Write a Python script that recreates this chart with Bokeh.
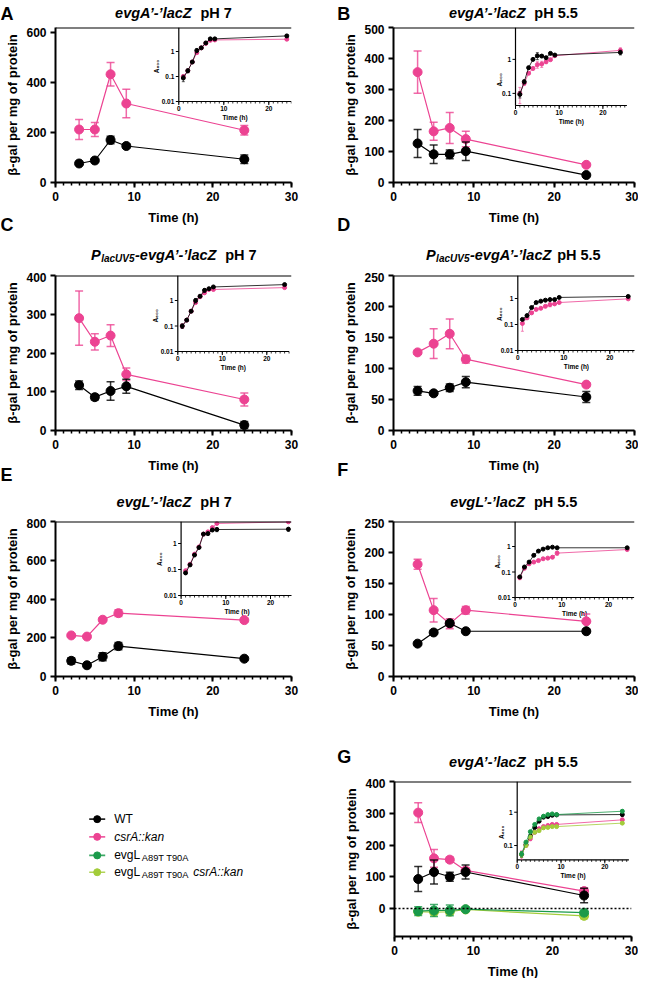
import math
from bokeh.plotting import figure
from bokeh.layouts import column, row
from bokeh.models import Range1d, LogScale, FixedTicker, Span
from bokeh.core.properties import value
from bokeh.embed import file_html
from bokeh.resources import INLINE

FONT = "Liberation Sans"
BLACK = "#000000"
PINK = "#EC4392"
DGREEN = "#1A9A4A"
LGREEN = "#A3CC3A"

# ---------------- main data (beta-gal per mg protein) ----------------
T_STD = [3, 5, 7, 9, 24]
T_E = [2, 4, 6, 8, 24]

A_WT = [76, 88, 170, 146, 93]
A_WT_ERR = [6, 8, 15, 8, 17]
A_CS = [212, 212, 433, 316, 209]
A_CS_ERR = [40, 28, 47, 57, 19]

B_WT = [126, 91, 91, 101, 24]
B_WT_ERR = [45, 30, 14, 30, 4]
B_CS = [356, 165, 176, 140, 57]
B_CS_ERR = [68, 29, 50, 25, 4]

C_WT = [117, 86, 102, 114, 14]
C_WT_ERR = [11, 7, 24, 18, 9]
C_CS = [290, 229, 245, 145, 80]
C_CS_ERR = [70, 21, 28, 16, 17]

D_WT = [64, 60, 69, 78, 54]
D_WT_ERR = [7, 3, 6, 9, 9]
D_CS = [126, 140, 156, 115, 74]
D_CS_ERR = [3, 24, 24, 6, 3]

E_WT = [81, 58, 102, 157, 92]
E_WT_ERR = [16, 8, 21, 19, 8]
E_CS = [212, 206, 293, 327, 291]
E_CS_ERR = [8, 8, 8, 17, 8]

F_WT = [53, 71, 86, 73, 73]
F_WT_ERR = [2, 2, 3, 2, 2]
F_CS = [181, 107, 85, 107, 89]
F_CS_ERR = [8, 19, 8, 6, 12]

G_WT = [93, 115, 100, 115, 41]
G_WT_ERR = [39, 38, 14, 22, 23]
G_CS = [302, 158, 154, 120, 55]
G_CS_ERR = [31, 28, 8, 8, 10]
G_G1 = [-8, -6, -6, -2, -13]
G_G1_ERR = [14, 19, 17, 4, 4]
G_G2 = [-10, -11, -10, -3, -23]
G_G2_ERR = [8, 8, 8, 4, 9]

# ---------------- inset data (A600) ----------------
IT8 = [1, 2, 3, 4, 5, 6, 7, 8, 24]
IT9 = [1, 2, 3, 4, 5, 6, 7, 8, 9, 24]

IA_WT = [0.087, 0.17, 0.38, 1.1, 1.4, 2.2, 3.2, 3.2, 4.2]
IA_WT_ERR = [0.025, 0.03, 0.03, 0.2, 0.1, 0.2, 0.3, 0.3, 0.6]
IA_CS = [0.10, 0.17, 0.38, 0.90, 1.4, 2.1, 2.8, 2.9, 3.1]
IA_CS_ERR = [0.015, 0.02, 0.03, 0.1, 0.1, 0.2, 0.2, 0.2, 0.3]

IB_WT = [0.093, 0.22, 0.57, 1.0, 1.28, 1.25, 1.12, 1.5, 1.34, 1.6]
IB_WT_ERR = [0.02, 0.03, 0.05, 0.05, 0.3, 0.1, 0.05, 0.1, 0.05, 0.25]
IB_CS = [0.10, 0.20, 0.39, 0.54, 0.70, 0.73, 0.85, 0.98, 1.28, 1.84]
IB_CS_ERR = [0.05, 0.03, 0.03, 0.05, 0.15, 0.15, 0.1, 0.05, 0.05, 0.35]

IC_WT = [0.10, 0.17, 0.38, 1.0, 1.47, 2.5, 2.9, 3.4, 4.2]
IC_WT_ERR = [0.02, 0.02, 0.03, 0.2, 0.1, 0.4, 0.2, 0.2, 0.3]
IC_CS = [0.10, 0.17, 0.38, 0.83, 1.4, 2.0, 2.7, 2.7, 3.2]
IC_CS_ERR = [0.02, 0.02, 0.03, 0.1, 0.1, 0.2, 0.2, 0.2, 0.2]

ID_WT = [0.157, 0.22, 0.45, 0.70, 0.79, 0.86, 0.91, 0.91, 1.1, 1.2]
ID_WT_ERR = [0.01, 0.01, 0.02, 0.03, 0.03, 0.03, 0.04, 0.04, 0.05, 0.05]
ID_CS = [0.11, 0.18, 0.28, 0.38, 0.42, 0.50, 0.58, 0.62, 0.70, 0.97]
ID_CS_ERR = [0.055, 0.02, 0.03, 0.03, 0.03, 0.05, 0.1, 0.05, 0.05, 0.05]

IE_WT = [0.074, 0.15, 0.36, 0.70, 2.3, 2.4, 3.3, 3.45, 3.55]
IE_WT_ERR = [0.01, 0.01, 0.03, 0.05, 0.2, 0.3, 0.3, 0.6, 0.6]
IE_CS = [0.09, 0.16, 0.39, 0.74, 2.3, 2.8, 4.1, 5.9, 6.8]
IE_CS_ERR = [0.01, 0.01, 0.03, 0.05, 0.2, 0.2, 0.3, 0.3, 0.3]

IF_WT = [0.064, 0.157, 0.245, 0.45, 0.66, 0.79, 0.89, 0.94, 0.89, 0.89]
IF_WT_ERR = [0.005, 0.01, 0.02, 0.03, 0.03, 0.03, 0.03, 0.03, 0.03, 0.05]
IF_CS = [0.06, 0.14, 0.21, 0.245, 0.28, 0.33, 0.35, 0.38, 0.55, 0.76]
IF_CS_ERR = [0.01, 0.01, 0.02, 0.02, 0.02, 0.03, 0.03, 0.04, 0.1, 0.08]

IG_WT = [0.054, 0.107, 0.19, 0.35, 0.54, 0.71, 0.74, 0.81, 0.83, 0.85]
IG_WT_ERR = [0.01, 0.01, 0.02, 0.03, 0.05, 0.05, 0.05, 0.05, 0.05, 0.1]
IG_CS = [0.054, 0.10, 0.16, 0.25, 0.32, 0.37, 0.40, 0.43, 0.43, 0.59]
IG_CS_ERR = [0.015, 0.01, 0.02, 0.02, 0.03, 0.03, 0.03, 0.03, 0.03, 0.07]
IG_G1 = [0.056, 0.126, 0.26, 0.43, 0.63, 0.76, 0.85, 0.89, 0.85, 1.07]
IG_G1_ERR = [0.01, 0.01, 0.02, 0.03, 0.05, 0.05, 0.05, 0.05, 0.05, 0.12]
IG_G2 = [0.054, 0.10, 0.18, 0.25, 0.28, 0.34, 0.35, 0.37, 0.37, 0.47]
IG_G2_ERR = [0.01, 0.01, 0.02, 0.02, 0.02, 0.03, 0.03, 0.03, 0.03, 0.04]

X_TICKS = [0, 10, 20, 30]
X_MINOR = list(range(0, 31))
INS_XTICKS = [0, 10, 20]
INS_XLABELS = ["0", "10", "20"]

Y_LABEL = "β-gal per mg of protein"
X_LABEL = "Time (h)"

LEG_COLORS = [BLACK, PINK, DGREEN, LGREEN]

# Arial/Liberation Sans Bold advance widths (em)
CW = {" ": .278, "’": .278, "-": .333, ".": .278, "5": .556, "7": .556, "A": .722,
      "L": .611, "P": .667, "U": .722, "V": .667, "Z": .611, "a": .556, "c": .556,
      "e": .556, "g": .611, "h": .611, "l": .278, "p": .611, "v": .556, "H": .722}


def twidth(t, size):
    return sum(CW.get(ch, 0.56) for ch in t) * size


def put_text(p, x, y, text, size, style, align="left", baseline="alphabetic"):
    p.text(x=[x], y=[y], text=[text], text_font=value(FONT), text_font_size=value(f"{size}px"),
           text_font_style=style, text_align=align, text_baseline=baseline, text_color="black")


def add_title(p, pieces, cx, base):
    total = sum(g + twidth(t, sz) for (t, st, sz, dy, g) in pieces)
    x = cx - total / 2
    for (t, st, sz, dy, g) in pieces:
        x += g
        put_text(p, x, base + dy, t, sz, st)
        x += twidth(t, sz)


def draw_series(p, t, y, e, color, size=9, lw=1.2, elw=1.5, cap=8, kw=None):
    kw = kw or {}
    pts = [(a, b, c) for a, b, c in zip(t, y, e) if c > 0]
    if pts:
        tx = [a for a, b, c in pts]
        lo = [b - c for a, b, c in pts]
        hi = [b + c for a, b, c in pts]
        p.segment(x0=tx, y0=lo, x1=tx, y1=hi, line_color=color, line_width=elw, line_alpha=0.8, **kw)
        p.scatter(x=tx + tx, y=lo + hi, marker="dash", size=cap, line_color=color,
                  line_width=elw, line_alpha=0.8, **kw)
    p.line(x=t, y=y, line_color=color, line_width=lw, **kw)
    p.scatter(x=t, y=y, size=size, fill_color=color, line_color=color, **kw)


def add_inset(p, frame, ins):
    fl, fr, ft, fb = frame
    xs, dec = ins["xs"], ins["dec"]
    a = -ins["left_off"] / xs
    b = a + (fr - fl) / xs
    bottom_px = ft + ins["bottom_off"]
    ybot = ins["ybot"]
    lb = math.log10(ybot)
    lc = lb - (fb - bottom_px) / dec
    ld = lb + (bottom_px - ft) / dec
    p.extra_x_ranges = {"ix": Range1d(a, b)}
    p.extra_y_ranges = {"iy": Range1d(10 ** lc, 10 ** ld)}
    p.extra_y_scales = {"iy": LogScale()}
    kw = dict(x_range_name="ix", y_range_name="iy")
    ytop = 10 ** ld
    xmax = ins["xmax"]
    p.segment(x0=[0, 0], y0=[ybot, ybot], x1=[xmax, 0], y1=[ybot, ytop],
              line_color="black", line_width=1.2, **kw)
    minor = list(range(0, int(xmax) + 1))
    p.ray(x=minor, y=[ybot] * len(minor), length=2, length_units="screen",
          angle=-math.pi / 2, line_color="black", line_width=0.8, **kw)
    p.ray(x=INS_XTICKS, y=[ybot] * len(INS_XTICKS), length=3.5, length_units="screen",
          angle=-math.pi / 2, line_color="black", line_width=1, **kw)
    yt = ins["yticks"]
    p.ray(x=[0] * len(yt), y=yt, length=3, length_units="screen", angle=math.pi,
          line_color="black", line_width=1, **kw)

    def down(px):
        return ybot * 10 ** (-px / dec)

    tkw = dict(text_font=value(FONT), text_font_size=value("6.5px"), text_font_style="bold",
               text_color="black")
    p.text(x=INS_XTICKS, y=[down(4.5)] * 3, text=INS_XLABELS, text_align="center",
           text_baseline="top", **tkw, **kw)
    p.text(x=[-4.5 / xs] * len(yt), y=yt, text=ins["ylabels"], text_align="right",
           text_baseline="middle", **tkw, **kw)
    p.text(x=[xmax / 2], y=[down(12.5)], text=[X_LABEL], text_align="center",
           text_baseline="top", **tkw, **kw)
    p.text(x=[-ins["aoff"] / xs], y=[0.25], text=["A₆₀₀"], angle=math.pi / 2,
           text_align="center", text_baseline="middle", **tkw, **kw)
    for (t, y, e, color) in ins["series"]:
        draw_series(p, t, y, e, color, size=4, lw=0.8, elw=0.8, cap=3, kw=kw)


def make_panel(s):
    W, H = s["W"], s["H"]
    y0, y1 = s["yr"]
    p = figure(width=W, height=H, x_range=Range1d(0, 30), y_range=Range1d(y0, y1),
               output_backend="svg", toolbar_location=None,
               min_border_left=s["BL"], min_border_right=s["BR"],
               min_border_top=s["BT"], min_border_bottom=s["BB"])
    p.outline_line_color = None
    p.grid.visible = False
    p.background_fill_color = "white"
    p.border_fill_color = "white"
    for ax in (p.xaxis[0], p.yaxis[0]):
        ax.axis_line_width = 2
        ax.axis_line_color = "black"
        ax.major_tick_line_width = 2
        ax.major_tick_line_color = "black"
        ax.major_tick_out = 5
        ax.major_tick_in = 0
        ax.major_label_text_font = FONT
        ax.major_label_text_font_size = "12px"
        ax.major_label_text_font_style = "bold"
        ax.major_label_text_color = "black"
        ax.major_label_standoff = 4
        ax.axis_label_text_font = FONT
        ax.axis_label_text_font_size = "13px"
        ax.axis_label_text_font_style = "bold"
        ax.axis_label_text_color = "black"
        ax.axis_label_standoff = 3
    p.xaxis.ticker = FixedTicker(ticks=X_TICKS, minor_ticks=X_MINOR)
    p.xaxis.minor_tick_out = 3
    p.xaxis.minor_tick_in = 0
    p.xaxis.minor_tick_line_width = 1.5
    p.xaxis.minor_tick_line_color = "black"
    p.yaxis.ticker = FixedTicker(ticks=s["yticks"])
    p.yaxis.minor_tick_line_color = None
    p.yaxis.axis_label = Y_LABEL

    fl, fr, ft, fb = s["BL"], W - s["BR"], s["BT"], H - s["BB"]
    p.add_layout(Span(location=y1, dimension="width", line_color="black", line_width=2))
    if s.get("zero"):
        p.add_layout(Span(location=0, dimension="width", line_color="black",
                          line_width=1.5, line_dash="2 2"))
    add_inset(p, (fl, fr, ft, fb), s["inset"])
    for (t, y, e, color) in s["series"]:
        draw_series(p, t, y, e, color)
    return p


def make_header(H, letters, titles, xlabels):
    p = figure(width=638, height=H, x_range=Range1d(0, 638), y_range=Range1d(H, 0),
               output_backend="svg", toolbar_location=None, x_axis_type=None, y_axis_type=None,
               min_border_left=0, min_border_right=0, min_border_top=0, min_border_bottom=0)
    p.grid.visible = False
    p.outline_line_color = None
    p.background_fill_color = "white"
    p.border_fill_color = "white"
    for (txt, x, y) in letters:
        put_text(p, x, y, txt, 18, "bold")
    for (pieces, cx, base) in titles:
        add_title(p, pieces, cx, base)
    for (cx, cy) in xlabels:
        put_text(p, cx, cy, X_LABEL, 13, "bold", align="center", baseline="middle")
    return p


LEFT = dict(W=319, BL=55, BR=28)
RIGHT = dict(W=319, BL=74, BR=4)
RP = dict(H=184, BT=3, BB=26)

BI = "bold italic"
EVGA = "evgA’-’lacZ"
EVGL = "evgL’-’lacZ"


def ins(left_off, bottom_off, xs, ybot, dec, yticks, ylabels, xmax, aoff, series):
    return dict(left_off=left_off, bottom_off=bottom_off, xs=xs, ybot=ybot, dec=dec,
                yticks=yticks, ylabels=ylabels, xmax=xmax, aoff=aoff, series=series)


Y3 = [0.01, 0.1, 1]
Y3L = ["0.01", "0.1", "1"]
Y2 = [0.1, 1]
Y2L = ["0.1", "1"]

specA = dict(**LEFT, **RP, yr=(0, 620), yticks=[0, 200, 400, 600],
             series=[(T_STD, A_CS, A_CS_ERR, PINK), (T_STD, A_WT, A_WT_ERR, BLACK)],
             inset=ins(123.3, 74, 4.5, 0.01, 25, Y3, Y3L, 25, 22,
                       [(IT8, IA_CS, IA_CS_ERR, PINK), (IT8, IA_WT, IA_WT_ERR, BLACK)]))
specB = dict(**RIGHT, **RP, yr=(0, 500), yticks=[0, 100, 200, 300, 400, 500],
             series=[(T_STD, B_CS, B_CS_ERR, PINK), (T_STD, B_WT, B_WT_ERR, BLACK)],
             inset=ins(122, 78, 4.37, 0.044, 34, Y2, Y2L, 25.5, 16,
                       [(IT9, IB_CS, IB_CS_ERR, PINK), (IT9, IB_WT, IB_WT_ERR, BLACK)]))
specC = dict(**LEFT, **RP, yr=(0, 400), yticks=[0, 100, 200, 300, 400],
             series=[(T_STD, C_CS, C_CS_ERR, PINK), (T_STD, C_WT, C_WT_ERR, BLACK)],
             inset=ins(122.3, 76, 4.45, 0.01, 25.5, Y3, Y3L, 25, 22,
                       [(IT8, IC_CS, IC_CS_ERR, PINK), (IT8, IC_WT, IC_WT_ERR, BLACK)]))
specD = dict(**RIGHT, **RP, yr=(0, 250), yticks=[0, 50, 100, 150, 200, 250],
             series=[(T_STD, D_CS, D_CS_ERR, PINK), (T_STD, D_WT, D_WT_ERR, BLACK)],
             inset=ins(124.3, 75, 4.6, 0.01, 26, Y3, Y3L, 25.5, 18,
                       [(IT9, ID_CS, ID_CS_ERR, PINK), (IT9, ID_WT, ID_WT_ERR, BLACK)]))
specE = dict(**LEFT, **RP, yr=(0, 800), yticks=[0, 200, 400, 600, 800],
             series=[(T_E, E_CS, E_CS_ERR, PINK), (T_E, E_WT, E_WT_ERR, BLACK)],
             inset=ins(125.6, 74, 4.47, 0.01, 26, Y3, Y3L, 25, 22,
                       [(IT8, IE_CS, IE_CS_ERR, PINK), (IT8, IE_WT, IE_WT_ERR, BLACK)]))
specF = dict(**RIGHT, **RP, yr=(0, 250), yticks=[0, 50, 100, 150, 200, 250],
             series=[(T_STD, F_CS, F_CS_ERR, PINK), (T_STD, F_WT, F_WT_ERR, BLACK)],
             inset=ins(121.6, 76, 4.67, 0.01, 25.5, Y3, Y3L, 25.5, 18,
                       [(IT9, IF_CS, IF_CS_ERR, PINK), (IT9, IF_WT, IF_WT_ERR, BLACK)]))
specG = dict(W=319, BL=75, BR=7, **RP, yr=(-88, 400), yticks=[0, 100, 200, 300, 400], zero=True,
             series=[(T_STD, G_CS, G_CS_ERR, PINK), (T_STD, G_WT, G_WT_ERR, BLACK),
                     (T_STD, G_G2, G_G2_ERR, LGREEN), (T_STD, G_G1, G_G1_ERR, DGREEN)],
             inset=ins(122.7, 78.4, 4.38, 0.037, 33.3, Y2, Y2L, 25.5, 16,
                       [(IT9, IG_CS, IG_CS_ERR, PINK), (IT9, IG_WT, IG_WT_ERR, BLACK),
                        (IT9, IG_G2, IG_G2_ERR, LGREEN), (IT9, IG_G1, IG_G1_ERR, DGREEN)]))

pA, pB, pC, pD, pE, pF, pG = [make_panel(s) for s in (specA, specB, specC, specD, specE, specF, specG)]

# ---------------- headers: panel letters, titles, x-axis labels ----------------
T_A = [(EVGA, BI, 14.5, 0, 0), ("pH 7", "bold", 14.5, 0, 8)]
T_B = [(EVGA, BI, 14.5, 0, 0), ("pH 5.5", "bold", 14.5, 0, 8)]
T_C = [("P", BI, 14.5, 0, 0), ("lacUV5", BI, 10, 4, 0.5), ("-" + EVGA, BI, 14.5, 0, 0.5),
       ("pH 7", "bold", 14.5, 0, 8)]
T_D = [("P", BI, 14.5, 0, 0), ("lacUV5", BI, 10, 4, 0.5), ("-" + EVGA, BI, 14.5, 0, 0.5),
       ("pH 5.5", "bold", 14.5, 0, 5)]
T_E_ = [(EVGL, BI, 14.5, 0, 0), ("pH 7", "bold", 14.5, 0, 8)]
T_F = [(EVGL, BI, 14.5, 0, 0), ("pH 5.5", "bold", 14.5, 0, 8)]
T_G = [(EVGA, BI, 14.5, 0, 0), ("pH 5.5", "bold", 14.5, 0, 8)]

XL_L = 173
XL_R = 513.5
XL_G = 512.5

h1 = make_header(24, [("A", 0, 13), ("B", 336.7, 13)],
                 [(T_A, 173, 12.5), (T_B, 512.9, 12.5)], [])
h2 = make_header(64, [("C", 0, 16.3), ("D", 336.7, 16.3)],
                 [(T_C, 173.3, 46), (T_D, 512.8, 46)], [(XL_L, 8.5), (XL_R, 8.5)])
h3 = make_header(62, [("E", 0, 18.3), ("F", 336.7, 13.5)],
                 [(T_E_, 173.7, 45), (T_F, 513.3, 45)], [(XL_L, 8.5), (XL_R, 8.5)])
h4 = make_header(76, [("G", 336.7, 54.7)],
                 [(T_G, 512.9, 59.7)], [(XL_L, 8.5), (XL_R, 8.5)])
h5 = make_header(16, [], [], [(XL_G, 8.5)])

# ---------------- legend panel ----------------
LEG_Y = [44.7, 65.7, 87.7, 107.7]
LEG_ROWS = [
    [("WT", "normal", 12, 0, 113.7)],
    [("csrA::kan", "italic", 12, 0, 113.7)],
    [("evgL", "normal", 12, 0, 113.7), ("A89T T90A", "normal", 9.3, 3.5, 141.3)],
    [("evgL", "normal", 12, 0, 113.7), ("A89T T90A", "normal", 9.3, 3.5, 141.3),
     ("csrA::kan", "italic", 12, 0, 192.7)],
]
pL = figure(width=319, height=184, x_range=Range1d(0, 319), y_range=Range1d(184, 0),
            output_backend="svg", toolbar_location=None, x_axis_type=None, y_axis_type=None,
            min_border_left=0, min_border_right=0, min_border_top=0, min_border_bottom=0)
pL.grid.visible = False
pL.outline_line_color = None
pL.background_fill_color = "white"
pL.border_fill_color = "white"
for i, (yy, color) in enumerate(zip(LEG_Y, LEG_COLORS)):
    pL.segment(x0=[88.7], y0=[yy], x1=[104.7], y1=[yy], line_color=color, line_width=1.6, line_alpha=0.85)
    pL.scatter(x=[96.7], y=[yy], size=7, fill_color=color, line_color=color)
    for (txt, st, sz, dy, x) in LEG_ROWS[i]:
        put_text(pL, x, yy + dy, txt, sz, st, baseline="middle")

layout = column(h1, row(pA, pB), h2, row(pC, pD), h3, row(pE, pF), h4, row(pL, pG), h5)
open("out.html", "w").write(file_html(layout, INLINE))
